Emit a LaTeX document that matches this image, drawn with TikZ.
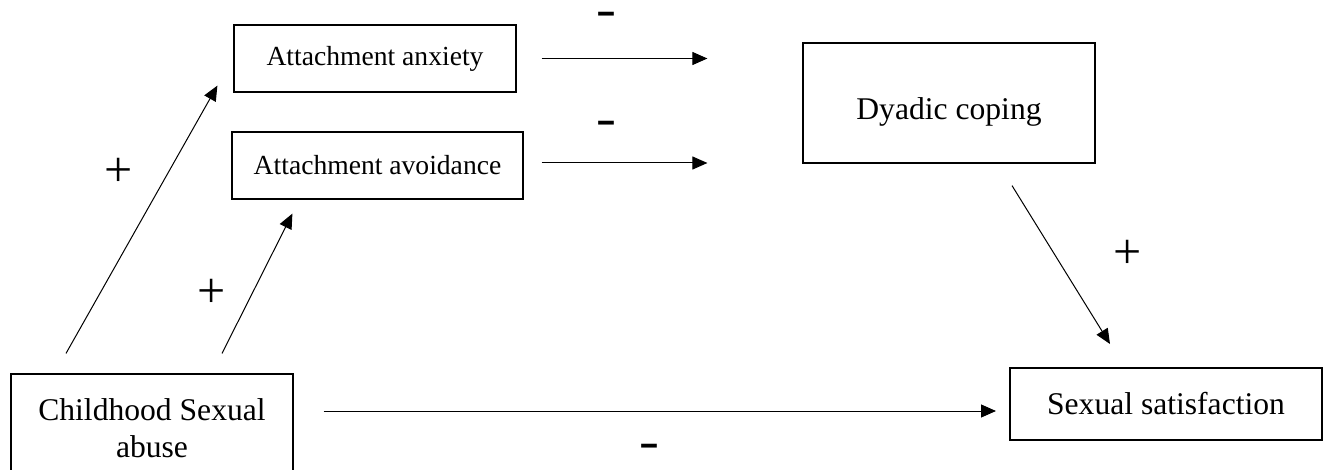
\documentclass[tikz,border=0pt]{standalone}
\usepackage{fontspec}
\setmainfont{Liberation Serif}
\newfontfamily\signfont{Liberation Sans}
\usepackage{graphicx}
\usetikzlibrary{arrows.meta}
\tikzset{
  box/.style={draw, line width=1.2pt, inner sep=0pt, align=center, font=\fontsize{31.6}{37}\selectfont},
  smallbox/.style={box, font=\fontsize{27.6}{32}\selectfont},
  arr/.style={line width=1pt, -{Triangle[length=15pt,width=13pt]}},
  plus/.style={font=\fontsize{50}{50}\selectfont, inner sep=0pt},
  minus/.style={font=\signfont\bfseries\fontsize{28}{28}\selectfont, inner sep=0pt}
}
\newcommand{\minussign}{\scalebox{2.2}[1.15]{-}}
\begin{document}
\begin{tikzpicture}[x=1pt,y=-1pt]
\clip (0,0) rectangle (1328,470);
\node[smallbox, minimum width=282pt, minimum height=67pt] (anx) at (375,58.5) {Attachment anxiety};
\node[smallbox, minimum width=291pt, minimum height=67pt] (avo) at (377.5,165.5) {Attachment avoidance};
\node[box, minimum width=292pt, minimum height=120pt] (dya) at (949,103) {\raisebox{-9pt}[0.7em][0.2em]{Dyadic coping}};
\node[box, line width=2pt, minimum width=312pt, minimum height=72pt] (ss) at (1166,404) {Sexual satisfaction};
\node[box, minimum width=282pt, minimum height=108pt] (csa) at (152,428) {Childhood Sexual\\abuse};

\draw[arr] ([xshift=25pt]anx.east) -- ([xshift=-95pt]anx.east -| dya.west);
\draw[arr] ([xshift=18pt,yshift=2.5pt]avo.east) -- ([xshift=-95pt,yshift=2.5pt]avo.east -| dya.west);
\draw[arr] ([xshift=-86pt,yshift=20pt]csa.north) -- ([xshift=-16pt,yshift=7pt]anx.south west);
\draw[arr] ([xshift=70pt,yshift=20pt]csa.north) -- ([xshift=61pt,yshift=-14pt]avo.south west);
\draw[arr] ([xshift=63pt,yshift=-22pt]dya.south) -- ([xshift=-56pt,yshift=23pt]ss.north);
\draw[arr] ([xshift=30pt,yshift=17pt]csa.east) -- ([xshift=-13pt,yshift=-7pt]ss.west);

\node[minus] (m1) at (606,17.5) {\minussign};
\node[minus] (m2) at (606,126) {\minussign};
\node[minus] (m3) at (649,449) {\minussign};
\node[plus] (p1) at (119,172) {+};
\node[plus] (p2) at (212,293) {+};
\node[plus] (p3) at (1128,254) {+};
\end{tikzpicture}
\end{document}
